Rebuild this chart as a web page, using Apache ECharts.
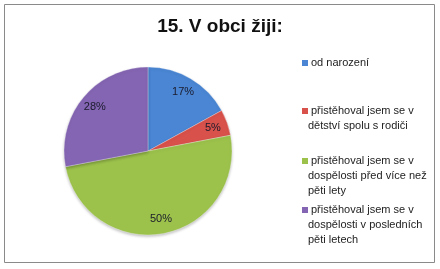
<!DOCTYPE html>
<html><head><meta charset="utf-8">
<script src="https://cdn.jsdelivr.net/npm/echarts@6/dist/echarts.min.js"></script>
<style>html,body{margin:0;padding:0;background:#fff}#c{width:440px;height:269px}</style>
</head><body><div id="c"></div>
<script>
const titleText = '15. V obci žiji:';
const categories = ['od narození', 'přistěhoval jsem se v dětství spolu s rodiči', 'přistěhoval jsem se v dospělosti před více než pěti lety', 'přistěhoval jsem se v dospělosti v posledních pěti letech'];
const legendLines = [['od narození'], ['přistěhoval jsem se v', 'dětství spolu s rodiči'], ['přistěhoval jsem se v', 'dospělosti před více než', 'pěti lety'], ['přistěhoval jsem se v', 'dospělosti v posledních', 'pěti letech']];
const values = [17, 5, 50, 28];
const colors = ['#4a86d4', '#d9514b', '#9cc24c', '#8465b3'];
const legendTops = [56, 105, 155, 204];

const chart = echarts.init(document.getElementById('c'), null, {renderer: 'canvas'});
const data = categories.map((n, i) => ({name: n, value: values[i], itemStyle: {color: colors[i]}}));
const rich = {t: {fontFamily: 'Liberation Sans', fontSize: 11, color: '#222', lineHeight: 15}, p: {width: 3, height: 7}};
colors.forEach((c, i) => { rich['m' + i] = {width: 6, height: 6, backgroundColor: c, borderColor: '#fff', borderWidth: 0.5}; });
const legends = categories.map((n, i) => ({
  data: [n], left: 297, top: legendTops[i], icon: 'none', itemWidth: 0, itemGap: 0, padding: 0, selectedMode: false,
  formatter: name => {
    const idx = categories.indexOf(name);
    return legendLines[idx].map((l, k) => (k === 0 ? '{m' + idx + '|}{p|}' : '{p|}{p|}') + '{t|' + l + '}').join('\n');
  },
  textStyle: {rich: rich, padding: 0}
}));
chart.setOption({
  animation: false,
  title: {text: titleText, left: 'center', top: 12, textStyle: {fontFamily: 'Liberation Sans', fontWeight: 'bold', fontSize: 19, color: '#111'}},
  legend: legends,
  graphic: [{type: 'rect', shape: {x: 4.5, y: 4.5, width: 430, height: 258}, style: {fill: 'none', stroke: '#8a8a8a', lineWidth: 1}, silent: true}],
  series: [{
    type: 'pie', center: [148, 151], radius: [0, 84], startAngle: 90, clockwise: true,
    data: data, label: {show: false}, labelLine: {show: false},
    itemStyle: {
      borderColor: 'rgba(255,255,255,0.5)', borderWidth: 0.6,
      shadowBlur: 3, shadowColor: 'rgba(0,0,0,0.25)', shadowOffsetY: 1.5
    },
    emphasis: {disabled: true}, silent: true
  }, {
    type: 'pie', center: [148, 151], radius: [48, 84], startAngle: 90, clockwise: true,
    data: categories.map((n, i) => ({name: n, value: values[i]})), itemStyle: {color: 'rgba(0,0,0,0)'},
    label: {show: true, position: 'inside', formatter: '{d}%', fontFamily: 'Liberation Sans', fontSize: 11, color: '#1a1a2a'},
    labelLine: {show: false}, emphasis: {disabled: true}, silent: true, z: 3
  }]
});
</script></body></html>
